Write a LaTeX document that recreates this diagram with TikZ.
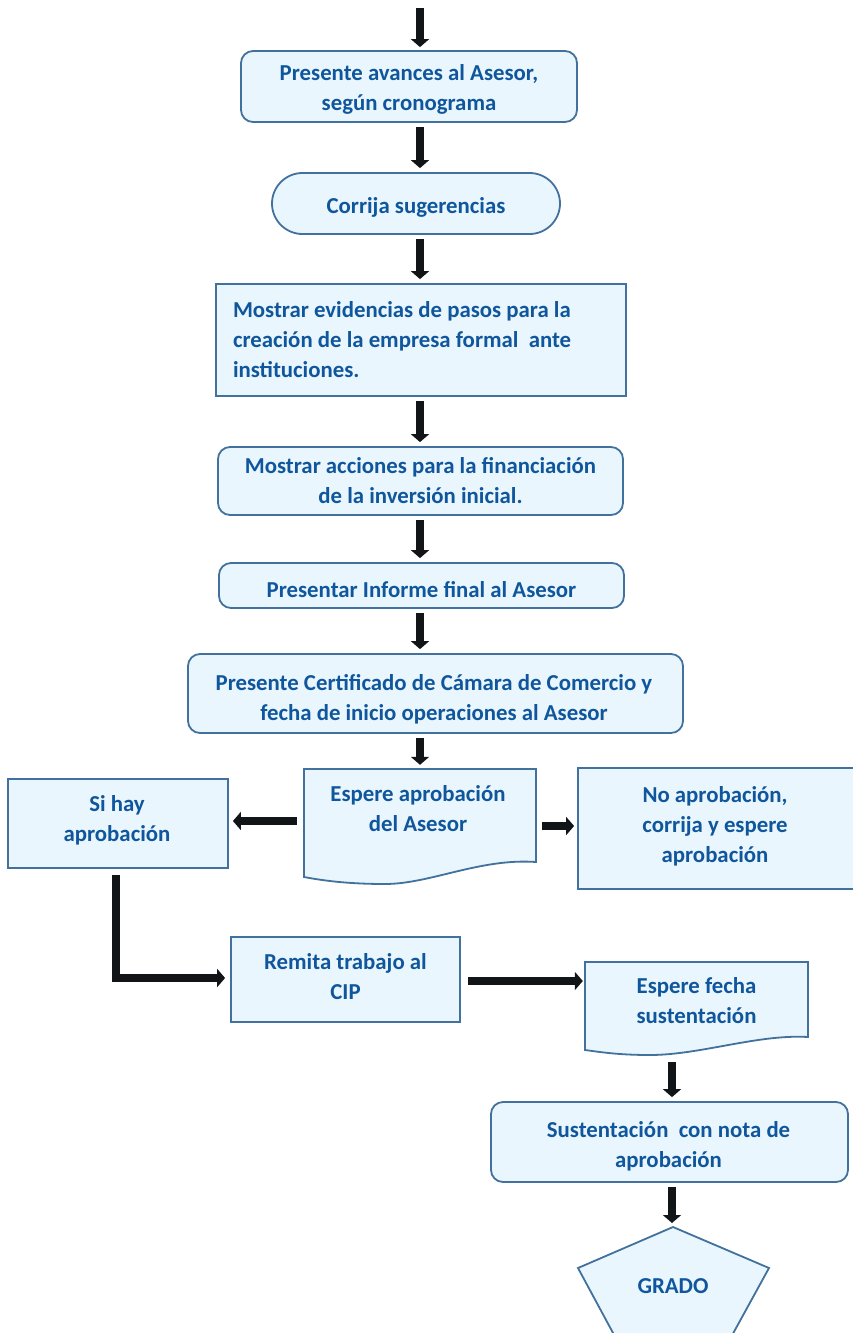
\documentclass[tikz,border=0pt]{standalone}
\usepackage{fontspec}
\setmainfont{Carlito}
\usetikzlibrary{arrows.meta}
\definecolor{txt}{HTML}{0F569C}
\definecolor{bord}{HTML}{41719C}
\definecolor{fillc}{HTML}{EAF6FD}
\definecolor{arr}{HTML}{121518}
\begin{document}
\begin{tikzpicture}[x=1pt,y=-1pt,
  lbl/.style={text=txt,font=\bfseries\fontsize{22.8}{30}\selectfont,align=center,inner sep=0pt},
  shapebox/.style={draw=bord,fill=fillc,line width=1.8pt,inner sep=0pt},
  rbox/.style={shapebox,lbl,rounded corners=12pt},
  sbox/.style={shapebox,lbl},
  flow/.style={draw=arr,line width=8.5pt,-{Triangle[width=18pt,length=8pt]},shorten <=4pt,shorten >=4pt}
]
\useasboundingbox (0,0) rectangle (852,1333);

% boxes
\node[rbox,minimum width=336pt,minimum height=71pt] (b1) at (409,86.5) {};
\node[lbl] (b1t) at (409,89.5) {Presente avances al Asesor,\\según cronograma};
\node[sbox,rounded corners=30.5pt,minimum width=288pt,minimum height=61pt] (b2) at (416,203.5) {};
\node[lbl] (b2t) at (416,207.5) {Corrija sugerencias};
\node[sbox,minimum width=410pt,minimum height=112pt,text width=376pt,align=flush left] (b3) at (421,340) {Mostrar evidencias de pasos para la\\creación de la empresa formal\ \ ante\\instituciones.};
\node[rbox,minimum width=405pt,minimum height=68pt] (b4) at (420.5,481) {Mostrar acciones para la financiación\\de la inversión inicial.};
\node[rbox,minimum width=405pt,minimum height=45pt] (b5) at (421.5,585.5) {};
\node[lbl] (b5t) at (421.5,589.5) {Presentar Informe final al Asesor};
\node[rbox,minimum width=495pt,minimum height=79pt] (b6) at (435.5,693.5) {};
\node[lbl] (b6t) at (434,699.5) {Presente Certificado de Cámara de Comercio y\\fecha de inicio operaciones al Asesor};

% document 1
\node[minimum width=232pt,minimum height=93pt,inner sep=0pt] (d1) at (420,815.5) {};
\draw[shapebox] (304,769) -- (536,769) -- (536,862) .. controls (480,858) and (430,884) .. (385,884) .. controls (345,884) and (320,880) .. (304,877) -- cycle;
\node[lbl] (d1t) at (418,808.5) {Espere aprobación\\del Asesor};

\node[sbox,minimum width=220pt,minimum height=89pt] (si) at (118,823.5) {};
\node[lbl] (sit) at (117,820.5) {Si hay\\aprobación};
\node[sbox,minimum width=280pt,minimum height=121pt] (no) at (718,828.5) {};
\node[lbl] (not) at (715,826.5) {No aprobación,\\corrija y espere\\aprobación};
\node[sbox,minimum width=229pt,minimum height=85pt] (remita) at (345.5,979.5) {};
\node[lbl] (remitat) at (345.5,976.5) {Remita trabajo al\\CIP};

% document 2
\node[minimum width=223pt,minimum height=75pt,inner sep=0pt] (d2) at (696.5,999.5) {};
\draw[shapebox] (585,962) -- (808,962) -- (808,1037) .. controls (758,1034) and (700,1055) .. (650,1055) .. controls (618,1055) and (600,1052) .. (585,1050) -- cycle;
\node[lbl] (d2t) at (696.5,1001) {Espere fecha\\sustentación};

\node[rbox,minimum width=357pt,minimum height=80pt] (sust) at (669.5,1142) {};
\node[lbl] (sustt) at (668.5,1146) {Sustentación\ \ con nota de\\aprobación};

% pentagon
\coordinate (gtop) at (673,1227);
\draw[shapebox] (gtop) -- (769,1268) -- (713,1370) -- (633,1370) -- (578,1268) -- cycle;
\node[lbl] (grado) at (673,1286) {GRADO};

% connectors
\coordinate (ax) at (420,8);
\draw[flow,shorten <=0pt,shorten >=3pt] (ax) -- (b1.north -| ax);
\draw[flow] (b1.south -| ax) -- (b2.north -| ax);
\draw[flow] (b2.south -| ax) -- (b3.north -| ax);
\draw[flow] (b3.south -| ax) -- (b4.north -| ax);
\draw[flow] (b4.south -| ax) -- (b5.north -| ax);
\draw[flow] (b5.south -| ax) -- (b6.north -| ax);
\draw[flow] (b6.south -| ax) -- (d1.north -| ax);

\coordinate (ly) at (0,821);
\draw[flow,shorten <=7pt] (d1.west |- ly) -- (si.east |- ly);
\coordinate (ry) at (0,826);
\draw[flow,shorten <=6pt,shorten >=3pt] (d1.east |- ry) -- (no.west |- ry);

\coordinate (lx) at (116,0);
\coordinate (ly2) at (0,978);
\draw[flow,shorten <=6pt,shorten >=5pt,line join=miter] (si.south -| lx) |- (remita.west |- ly2);
\coordinate (ly3) at (0,981);
\draw[flow,shorten <=7pt,shorten >=2pt] (remita.east |- ly3) -- (d2.west |- ly3);

\coordinate (d2b) at (672,1056);
\draw[flow,shorten <=6pt] (d2b) -- (sust.north -| d2b);
\draw[flow] (sust.south -| d2b) -- (gtop -| d2b);
\end{tikzpicture}
\end{document}
